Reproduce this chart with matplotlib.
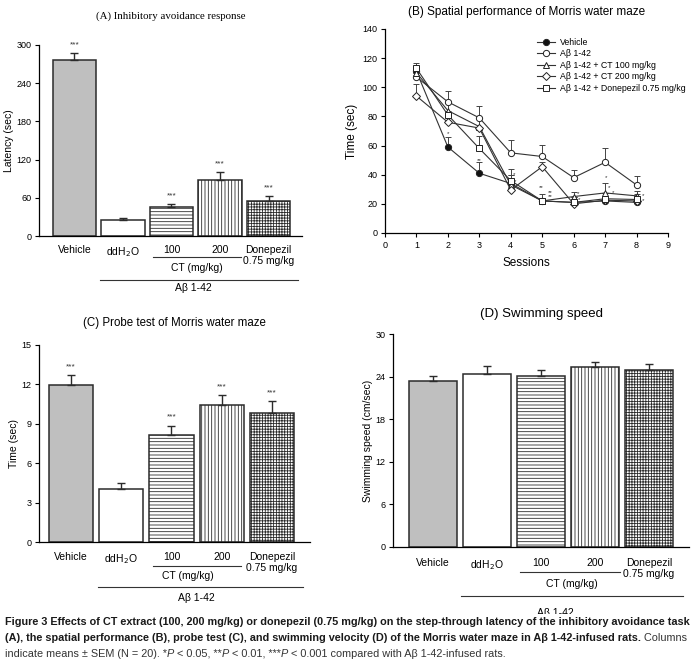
import numpy as np
import matplotlib
matplotlib.use('Agg')
import matplotlib.pyplot as plt
import matplotlib.transforms as mtransforms

plt.rcParams['font.family'] = ['Liberation Sans', 'DejaVu Sans']
plt.rcParams['hatch.linewidth'] = 0.6
plt.rcParams['axes.linewidth'] = 0.9

W, H = 695, 664

# ---- data ----
groups = ['Vehicle', 'ddH$_2$O', '100', '200', 'Donepezil\n0.75 mg/kg']
latency = [276, 25, 45, 88, 55]
latency_err = [11, 3, 5, 12, 8]
latency_sig = ['***', '', '***', '***', '***']

probe = [11.95, 4.0, 8.17, 10.4, 9.85]
probe_err = [0.75, 0.5, 0.7, 0.8, 0.85]
probe_sig = ['***', '', '***', '***', '***']

speed = [23.4, 24.4, 24.1, 25.3, 24.9]
speed_err = [0.75, 1.1, 0.9, 0.8, 0.9]

sessions = [1, 2, 3, 4, 5, 6, 7, 8]
maze_labels = ['Vehicle', 'A\u03b2 1-42', 'A\u03b2 1-42 + CT 100 mg/kg',
               'A\u03b2 1-42 + CT 200 mg/kg', 'A\u03b2 1-42 + Donepezil 0.75 mg/kg']
maze_vehicle = [111, 59, 41, 34, 22, 21, 22, 21]
maze_ab = [107, 90, 79, 55, 52.5, 38, 48.5, 33]
maze_ct100 = [110, 84, 73, 33, 22, 25, 27.5, 25.5]
maze_ct200 = [94, 76, 72, 29.5, 45.5, 20, 22.5, 22]
maze_donep = [113, 81, 58, 36, 22, 21, 23.5, 23]
err_vehicle = [3, 7, 7.5, 6, 1, 1, 1, 1]
err_ab = [4, 7.5, 8, 8.5, 8, 5.5, 10, 6]
err_ct100 = [4, 6, 6, 7, 2, 3, 7, 3]
err_ct200 = [8.5, 5, 7, 4, 3, 2, 2, 2]
err_donep = [4, 8, 8.5, 8, 5, 4, 4, 4]
# significance marks in panel B: (session, time, mark)
maze_sig = [(2, 68, '*'), (3, 50, '**'), (4.11, 40, '*'), (4.15, 35, '*'),
            (4.98, 31.5, '**'), (5.25, 28, '**'), (5.27, 25, '**'),
            (6.14, 27, '*'), (6.18, 23, '*'), (7.02, 38, '*'), (7.14, 31, '*'),
            (7.24, 28, '*'), (8.2, 26, '*'), (8.22, 22, '*')]

fills = ['#bfbfbf', 'white', 'white', 'white', 'white']
hatches = [None, None, '-----', '|||||', '++++++']
edge = '#2b2b2b'


def box(l, t, r, b):
    return [l / W, 1 - b / H, (r - l) / W, (b - t) / H]


fig = plt.figure(figsize=(6.95, 6.64), dpi=100)


def bar_panel(ax, vals, errs, sigs, ymax, step, ylabel, xlim, width, pad, under):
    x = np.arange(len(vals))
    for i in range(len(vals)):
        ax.bar(x[i], vals[i], width=width, color=fills[i], edgecolor=edge,
               hatch=hatches[i], linewidth=1.1, zorder=2)
    ax.errorbar(x, vals, yerr=[np.zeros(len(errs)), errs], fmt='none',
                ecolor=edge, elinewidth=1.0, capsize=3, capthick=1.0, zorder=3)
    for i, s in enumerate(sigs):
        if s:
            ax.text(x[i], vals[i] + errs[i] + ymax * 0.025, s, ha='center',
                    va='bottom', fontsize=6, color='#333')
    ax.set_xlim(*xlim)
    ax.set_ylim(0, ymax)
    ax.set_yticks(np.arange(0, ymax + 0.1, step))
    ax.set_xticks(x)
    ax.set_xticklabels(groups, fontsize=7.5, linespacing=1.15)
    ax.tick_params(axis='x', length=0, pad=pad)
    ax.tick_params(axis='y', direction='out', length=3, labelsize=6.5, width=0.8, pad=2.5)
    for sp in ['top', 'right']:
        ax.spines[sp].set_visible(False)
    ax.set_ylabel(ylabel, fontsize=7.5, labelpad=2)
    tr = mtransforms.blended_transform_factory(ax.transData, ax.transAxes)
    ct_y, ct_x0, ct_x1, ct_tx, ct_ty, ab_y, ab_x0, ab_x1, ab_tx, ab_ty = under
    ax.plot([ct_x0, ct_x1], [ct_y, ct_y], color='#333', lw=0.8, transform=tr, clip_on=False)
    ax.text(ct_tx, ct_ty, 'CT (mg/kg)', transform=tr, ha='center', va='center', fontsize=7.5)
    ax.plot([ab_x0, ab_x1], [ab_y, ab_y], color='#333', lw=0.8, transform=tr, clip_on=False)
    ax.text(ab_tx, ab_ty, 'A\u03b2 1-42', transform=tr, ha='center', va='center', fontsize=7.5)


# (A)
axA = fig.add_axes(box(39, 45, 302, 236))
bar_panel(axA, latency, latency_err, latency_sig, 300, 60, 'Latency (sec)',
          (-0.73, 4.69), 0.89, 6.5,
          (-0.11, 1.62, 3.43, 2.53, -0.168, -0.23, 0.53, 4.61, 2.45, -0.272))
axA.set_title('(A) Inhibitory avoidance response', fontsize=7.8,
              family=['Liberation Serif'], pad=19)

# (C)
axC = fig.add_axes(box(39, 345, 310, 542))
bar_panel(axC, probe, probe_err, probe_sig, 15, 3, 'Time (sec)',
          (-0.64, 4.76), 0.88, 7,
          (-0.122, 1.63, 3.39, 2.33, -0.173, -0.228, 0.54, 4.62, 2.5, -0.284))
axC.set_title('(C) Probe test of Morris water maze', fontsize=8.3, pad=14)

# (D)
axD = fig.add_axes(box(393, 334, 689, 547))
bar_panel(axD, speed, speed_err, ['', '', '', '', ''], 30, 6, 'Swimming speed (cm/sec)',
          (-0.74, 4.74), 0.89, 8,
          (-0.117, 1.61, 3.46, 2.57, -0.174, -0.23, 0.52, 4.63, 2.26, -0.31))
axD.set_title('(D) Swimming speed', fontsize=9.5, pad=12)

# (B)
axB = fig.add_axes(box(385, 29, 668, 233))
series = [(maze_vehicle, err_vehicle, 'o', '#111'),
          (maze_ab, err_ab, 'o', 'white'),
          (maze_ct100, err_ct100, '^', 'white'),
          (maze_ct200, err_ct200, 'D', 'white'),
          (maze_donep, err_donep, 's', 'white')]
msizes = {'o': 4.5, '^': 4.5, 'D': 3.8, 's': 4.3}
for (vals, errs, mk, fc), lab in zip(series, maze_labels):
    axB.errorbar(sessions, vals, yerr=[np.zeros(len(errs)), errs], fmt='none',
                 ecolor='#444', elinewidth=0.7, capsize=2.5, capthick=0.7, zorder=2)
    axB.plot(sessions, vals, color='#333', lw=0.8, marker=mk, markersize=msizes[mk],
             mfc=fc, mec='#222', mew=0.7, label=lab, zorder=3)
for sx, sy, s in maze_sig:
    axB.text(sx, sy, s, ha='center', va='center', fontsize=4.5, color='#333')
axB.set_xlim(0, 9)
axB.set_ylim(0, 140)
axB.set_xticks(range(0, 10))
axB.set_yticks(range(0, 141, 20))
axB.tick_params(direction='out', length=3, labelsize=6.5, width=0.8, pad=2.5)
for sp in ['top', 'right']:
    axB.spines[sp].set_visible(False)
axB.set_xlabel('Sessions', fontsize=8.5, labelpad=5)
axB.set_ylabel('Time (sec)', fontsize=8.5, labelpad=3)
axB.set_title('(B) Spatial performance of Morris water maze', fontsize=8.5, pad=10)
axB.legend(loc='upper left', bbox_to_anchor=(0.525, 0.975), frameon=False, fontsize=6.3,
           handlelength=2.0, handletextpad=0.6, labelspacing=0.3, borderaxespad=0)

# ---- caption ----
fig.patches.append(plt.Rectangle((0, 0), 1, 1 - 614 / H, transform=fig.transFigure,
                                 facecolor='white', edgecolor='none', zorder=5))
cap_font = ['Liberation Sans Narrow', 'Liberation Sans', 'DejaVu Sans']
cap_lines = [
    [('Figure 3 Effects of CT extract (100, 200 mg/kg) or donepezil (0.75 mg/kg) on the '
      'step-through latency of the inhibitory avoidance task', 'bold', 'normal')],
    [('(A), the spatial performance (B), probe test (C), and swimming velocity (D) of the '
      'Morris water maze in A\u03b2 1-42-infused rats.', 'bold', 'normal'),
     (' Columns', 'normal', 'normal')],
    [('indicate means \u00b1 SEM (N = 20). *', 'normal', 'normal'), ('P', 'normal', 'italic'),
     (' < 0.05, **', 'normal', 'normal'), ('P', 'normal', 'italic'),
     (' < 0.01, ***', 'normal', 'normal'), ('P', 'normal', 'italic'),
     (' < 0.001 compared with A\u03b2 1-42-infused rats.', 'normal', 'normal')],
]
cap_y = [622, 638, 654]
renderer = fig.canvas.get_renderer()

# fit the first line to the caption width
probe_t = fig.text(0, 0, cap_lines[0][0][0], fontsize=8, weight='bold', family=cap_font)
w8 = probe_t.get_window_extent(renderer).width
probe_t.remove()
cap_fs = 8 * 686 / w8

for line, y in zip(cap_lines, cap_y):
    x = 5
    for txt, wt, st in line:
        t = fig.text(x / W, 1 - y / H, txt, fontsize=cap_fs, weight=wt, style=st,
                     family=cap_font, va='center', ha='left', zorder=6,
                     color='#1a1a1a' if wt == 'bold' else '#333')
        x += t.get_window_extent(renderer).width

fig.savefig('out.png', dpi=100)
